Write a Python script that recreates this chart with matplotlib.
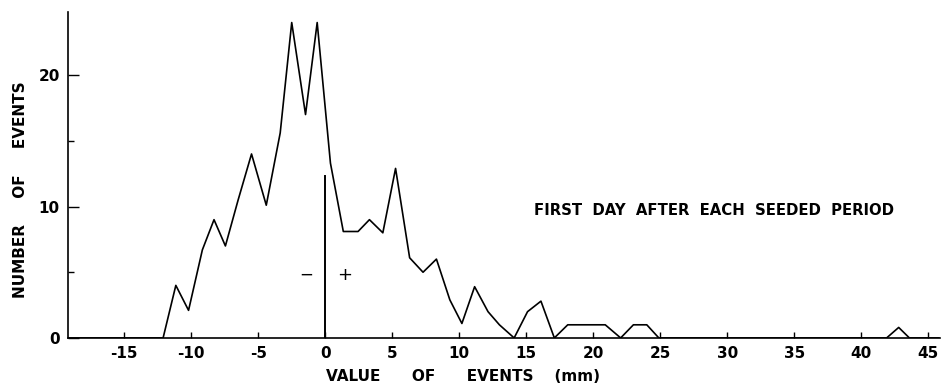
import matplotlib.pyplot as plt
from matplotlib.ticker import FixedLocator, FuncFormatter

value_mm = [-19.2, -12.1, -11.15, -10.2, -9.17, -8.3, -7.45, -6.5, -5.5, -4.4,
            -3.36, -2.5, -1.47, -0.6, 0.39, 1.35, 2.45, 3.3, 4.3, 5.25,
            6.3, 7.3, 8.3, 9.3, 10.2, 11.15, 12.15, 13.0, 14.1, 15.1,
            16.1, 17.1, 18.1, 20.9, 22.05, 23.0, 24.0, 24.9, 41.9, 42.8,
            43.6, 45.8]
n_events = [0, 0, 4, 2.1, 6.7, 9, 7, 10.5, 14, 10.1,
            15.6, 24, 17, 24, 13.3, 8.1, 8.1, 9, 8, 12.9,
            6.1, 5, 6, 2.9, 1.1, 3.9, 2, 1, 0, 2,
            2.8, 0, 1, 1, 0, 1, 1, 0, 0, 0.8,
            0, 0]

x_ticks = [-15, -10, -5, 0, 5, 10, 15, 20, 25, 30, 35, 40, 45]
y_ticks = [0, 10, 20]
y_minor = [5, 15]

divider_top = 12.35
caption = "FIRST  DAY  AFTER  EACH  SEEDED  PERIOD"

fig = plt.figure(figsize=(9.44, 3.88), dpi=100)
ax = fig.add_axes([0.072, 0.129, 0.924, 0.840])

ax.plot(value_mm, n_events, color='black', linewidth=1.2)
ax.plot([0, 0], [0, divider_top], color='black', linewidth=1.4)
ax.text(-1.45, 4.8, '−', ha='center', va='center', fontsize=12)
ax.text(1.45, 4.8, '+', ha='center', va='center', fontsize=13)
ax.text(29.0, 9.7, caption, ha='center', va='center', fontsize=10.7,
        fontweight='bold')

ax.set_xlim(-19.2, 45.9)
ax.set_ylim(0, 24.8)

ax.spines['top'].set_visible(False)
ax.spines['right'].set_visible(False)
for s in ('left', 'bottom'):
    ax.spines[s].set_linewidth(1.2)

ax.xaxis.set_major_locator(FixedLocator(x_ticks))
ax.xaxis.set_major_formatter(FuncFormatter(lambda v, p: f"{int(v)}"))
ax.yaxis.set_major_locator(FixedLocator(y_ticks))
ax.yaxis.set_minor_locator(FixedLocator(y_minor))
ax.tick_params(axis='x', direction='in', length=4, width=1, labelsize=11, pad=6)
ax.tick_params(axis='y', which='major', direction='in', length=8, width=1,
               labelsize=11, pad=6)
ax.tick_params(axis='y', which='minor', direction='in', length=4, width=1)
for lab in ax.get_xticklabels() + ax.get_yticklabels():
    lab.set_fontweight('bold')

ax.set_xlabel("VALUE      OF      EVENTS    (mm)", fontsize=11, fontweight='bold')
ax.set_ylabel("NUMBER     OF     EVENTS", fontsize=11, fontweight='bold')
ax.xaxis.set_label_coords(0.453, -0.095)
ax.yaxis.set_label_coords(-0.046, 0.455)

plt.savefig("out.png", dpi=100)
